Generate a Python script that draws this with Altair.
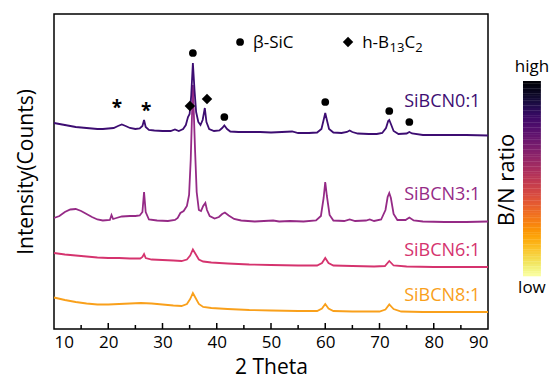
import altair as alt
import pandas as pd
import numpy as np

FONT = "Open Sans"

# ---- XRD patterns (2 Theta, stacked intensity) ----
theta_01 = [10, 11, 12, 13, 14, 15, 16, 17, 18, 19, 20, 21, 21.8, 22.5, 23.2, 24, 25, 25.8, 26.3, 26.6,
            26.9, 27.5, 28.5, 30, 31.5, 32.3, 33, 33.8, 34.3, 34.7, 35.0, 35.3, 35.6, 35.9, 36.2, 36.6,
            37.0, 37.4, 37.8, 38.1, 38.6, 39.5, 40.5, 41.0, 41.4, 41.9, 42.5, 44, 46, 48, 50, 52, 53.9,
            55, 57, 58.5, 59.3, 59.7, 60.0, 60.3, 60.7, 61.5, 63, 64.0, 64.5, 65.0, 66, 68, 69.5, 70.5,
            71.2, 71.6, 71.8, 72.1, 72.6, 73.5, 75.0, 75.5, 76.0, 78, 82, 86, 90]
int_01 = [206, 205, 204, 203, 202, 201.5, 201, 200.5, 200, 200, 200.5, 201, 203, 204.5, 203, 201, 200, 200.5, 203, 209,
          202, 199, 198.5, 198, 198, 199.5, 198, 200, 204, 212, 215, 234, 266, 239, 217, 207,
          204, 209, 221, 207, 200, 198, 198.5, 201, 203.5, 200, 197.5, 197, 197, 197, 196.5, 197, 197.5,
          196, 196, 196.5, 200, 209, 216, 209, 200, 196.5, 196, 197, 198.5, 197, 195.5, 195, 195, 196,
          201, 208, 209, 205, 198, 195, 195.5, 197, 195.5, 194, 194, 194, 193.5]

theta_31 = [10, 11, 12, 13, 14, 15, 16, 17, 18, 19, 20.3, 20.6, 20.9, 21.5, 22.5, 24, 25, 25.8, 26.3, 26.6,
            26.9, 27.5, 29, 31, 32.3, 32.8, 33.3, 33.9, 34.5, 34.9, 35.2, 35.6, 36.0, 36.3, 36.7, 37.1,
            37.5, 37.9, 38.2, 38.7, 39.6, 40.4, 41.0, 41.5, 42.2, 43.2, 44.5, 47, 50.4, 51.5, 53.5, 56,
            58.3, 59.2, 59.7, 60.0, 60.3, 60.8, 61.5, 63.5, 64.5, 65.5, 67.5, 68.2, 69, 70.3, 71.1, 71.5,
            71.8, 72.1, 72.6, 73.3, 74.8, 75.5, 76.3, 78, 82, 86, 90]
int_31 = [111, 113, 117, 119.5, 120, 118, 115, 112, 109.5, 108.5, 109, 114, 110, 111, 112.5, 113, 113, 113.5, 117, 137,
          117, 109.5, 108.5, 108, 109, 111, 116, 118, 123, 134, 169, 244, 179, 137, 119, 118,
          123, 126, 119, 113, 110.5, 112, 115, 116.5, 113.5, 110, 108.5, 107.5, 108.5, 107.5, 108, 107.5,
          108.5, 113, 131, 147, 133, 114, 108.5, 108, 109.5, 108, 108.5, 109.5, 108, 109.5, 119, 132,
          136, 131, 115, 109, 109, 111.5, 108.5, 107.5, 107, 107, 107.5]

theta_61 = [10, 12, 14, 16, 18, 20, 22, 24, 25.9, 26.3, 26.6, 26.9, 28, 30, 32, 33.5, 34.5, 35.1, 35.6, 36.1,
            36.7, 37.5, 39, 42, 46, 50, 55, 58.5, 59.4, 60.0, 60.6, 61.5, 65, 69, 71, 71.8, 72.6, 75, 80, 85, 90]
int_61 = [76, 74.5, 73.5, 72.5, 71.5, 71, 71, 70.5, 70.5, 72, 75, 71, 69.5, 69, 68.5, 68, 69.5, 73.5, 79.5, 75,
          69.5, 67.5, 66.5, 65.5, 64.5, 64, 63.5, 63.5, 66, 71, 66, 63.5, 63, 62.5, 63, 68, 63.5, 62.5, 62, 62, 62]

theta_81 = [10, 12, 14, 16, 18, 20, 22, 24, 26, 28, 30, 32, 33.5, 34.5, 35.1, 35.6, 36.1, 36.7, 37.5, 39,
            42, 46, 50, 55, 58.5, 59.4, 60.0, 60.6, 61.5, 65, 70, 71.1, 71.8, 72.6, 74, 78, 84, 90]
int_81 = [31.5, 29, 27, 25.5, 24.5, 24.5, 25, 25.5, 26, 25.5, 24.5, 23.5, 23, 25, 30, 36, 31, 25, 22, 21,
          20, 19, 18.5, 18, 18, 20.5, 25, 20.5, 18, 17.5, 17.5, 19.5, 24.5, 20, 17.5, 17, 17, 17]

samples = ["SiBCN8:1", "SiBCN6:1", "SiBCN3:1", "SiBCN0:1"]
sample_colors = ["#f9a01b", "#d5336e", "#952a86", "#3d0d72"]
series = [(theta_81, int_81), (theta_61, int_61), (theta_31, int_31), (theta_01, int_01)]
label_theta = [88.6, 88.6, 88.6, 88.6]
label_int = [33, 78, 134, 227]

# phase markers
sic_theta = [35.6, 41.4, 60.0, 71.8, 75.5]
sic_int = [276, 212, 227, 218, 207]
b13c2_theta = [35.05, 38.2]
b13c2_int = [223, 230]
star_theta = [21.6, 27.0]
star_int = [221, 218]

# legend entries
leg_sym_theta = [44.3, 64.2]
leg_sym_int = [287, 287]

x_ticks_major = [20, 30, 40, 50, 60, 70, 80]
x_ticks_minor = [15, 25, 35, 45, 55, 65, 75, 85]

xs = alt.Scale(domain=[10, 90], nice=False, zero=False)
ys = alt.Scale(domain=[0, 315], nice=False, zero=False)

layers = []
for (th, it), name, col in zip(series, samples, sample_colors):
    df = pd.DataFrame({"theta": th, "intensity": it})
    layers.append(
        alt.Chart(df).mark_line(color=col, strokeWidth=1.8).encode(
            x=alt.X("theta:Q", scale=xs,
                    axis=alt.Axis(values=list(range(10, 91, 10)), ticks=False, domain=False, grid=False,
                                  labelFontSize=17, labelFont=FONT, labelColor="black", labelPadding=5,
                                  title="2 Theta", titleFont=FONT, titleFontSize=21, titleFontWeight="normal",
                                  titleColor="black", titlePadding=6)),
            y=alt.Y("intensity:Q", scale=ys,
                    axis=alt.Axis(labels=False, ticks=False, domain=False, grid=False,
                                  title="Intensity(Counts)", titleFont=FONT, titleFontSize=21,
                                  titleFontWeight="normal", titleColor="black", titlePadding=18)),
        )
    )

lab_df = pd.DataFrame({"theta": label_theta, "intensity": label_int, "name": samples, "col": sample_colors})
for i in range(len(samples)):
    layers.append(
        alt.Chart(lab_df.iloc[[i]]).mark_text(align="right", baseline="middle", font=FONT, fontSize=18,
                                               color=sample_colors[i]).encode(
            x=alt.X("theta:Q", scale=xs), y=alt.Y("intensity:Q", scale=ys), text="name:N")
    )

# ticks (inward)
layers.append(alt.Chart(pd.DataFrame({"t": x_ticks_major})).mark_rule(color="black", strokeWidth=1.5).encode(
    x=alt.X("t:Q", scale=xs), y=alt.value(315), y2=alt.value(309)))
layers.append(alt.Chart(pd.DataFrame({"t": x_ticks_minor})).mark_rule(color="black", strokeWidth=1.5).encode(
    x=alt.X("t:Q", scale=xs), y=alt.value(315), y2=alt.value(311)))

# phase markers
layers.append(alt.Chart(pd.DataFrame({"theta": sic_theta + [leg_sym_theta[0]],
                                      "intensity": sic_int + [leg_sym_int[0]]})).mark_point(
    shape="circle", filled=True, color="black", size=60, opacity=1).encode(
    x=alt.X("theta:Q", scale=xs), y=alt.Y("intensity:Q", scale=ys)))
layers.append(alt.Chart(pd.DataFrame({"theta": b13c2_theta + [leg_sym_theta[1]],
                                      "intensity": b13c2_int + [leg_sym_int[1]]})).mark_point(
    shape="diamond", filled=True, color="black", size=110, opacity=1).encode(
    x=alt.X("theta:Q", scale=xs), y=alt.Y("intensity:Q", scale=ys)))
layers.append(alt.Chart(pd.DataFrame({"theta": star_theta, "intensity": star_int, "s": ["*", "*"]})).mark_text(
    font=FONT, fontSize=19, fontWeight="bold", color="black", baseline="middle").encode(
    x=alt.X("theta:Q", scale=xs), y=alt.Y("intensity:Q", scale=ys), text="s:N"))

# legend text
leg_text = pd.DataFrame({
    "theta": [46.7, 66.8, 71.85, 74.6, 76.6],
    "intensity": [286, 286, 281, 286, 281],
    "txt": ["β-SiC", "h-B", "13", "C", "2"],
    "fs": ["big", "big", "small", "big", "small"],
})
layers.append(alt.Chart(leg_text[leg_text.fs == "big"]).mark_text(
    align="left", baseline="middle", font=FONT, fontSize=17, color="black").encode(
    x=alt.X("theta:Q", scale=xs), y=alt.Y("intensity:Q", scale=ys), text="txt:N"))
layers.append(alt.Chart(leg_text[leg_text.fs == "small"]).mark_text(
    align="left", baseline="middle", font=FONT, fontSize=13, color="black").encode(
    x=alt.X("theta:Q", scale=xs), y=alt.Y("intensity:Q", scale=ys), text="txt:N"))

# colour bar (B/N ratio)
cb_x0, cb_x1, cb_top, cb_bot = 96.45, 99.75, 248, 53
n = 80
lev = np.linspace(0, 1, n, endpoint=False)
step = (cb_top - cb_bot) / n
cb = pd.DataFrame({"level": lev + 0.5 / n, "y1": cb_top - lev * (cb_top - cb_bot),
                   "y2": cb_top - lev * (cb_top - cb_bot) - step - 0.3})
cb["x1"] = cb_x0
cb["x2"] = cb_x1
layers.append(alt.Chart(cb).mark_rect(strokeWidth=0).encode(
    x=alt.X("x1:Q", scale=xs), x2="x2:Q", y=alt.Y("y1:Q", scale=ys), y2="y2:Q",
    color=alt.Color("level:Q", scale=alt.Scale(scheme="inferno", domain=[0, 1]), legend=None)))
cb_text = pd.DataFrame({"theta": [98.1, 98.1], "intensity": [262, 41], "txt": ["high", "low"]})
layers.append(alt.Chart(cb_text).mark_text(font=FONT, fontSize=17, color="black", baseline="middle").encode(
    x=alt.X("theta:Q", scale=xs), y=alt.Y("intensity:Q", scale=ys), text="txt:N"))
layers.append(alt.Chart(pd.DataFrame({"theta": [93.5], "intensity": [149], "txt": ["B/N ratio"]})).mark_text(
    font=FONT, fontSize=22, color="black", angle=270, baseline="middle").encode(
    x=alt.X("theta:Q", scale=xs), y=alt.Y("intensity:Q", scale=ys), text="txt:N"))

chart = alt.layer(*layers).properties(
    width=434, height=315,
    autosize=alt.AutoSizeParams(type="none"),
    padding={"left": 54, "top": 14, "right": 61, "bottom": 52},
    background="white",
).configure_view(stroke="black", strokeWidth=1.5)

chart.save("out.html", embed_options={"renderer": "svg", "actions": False})
